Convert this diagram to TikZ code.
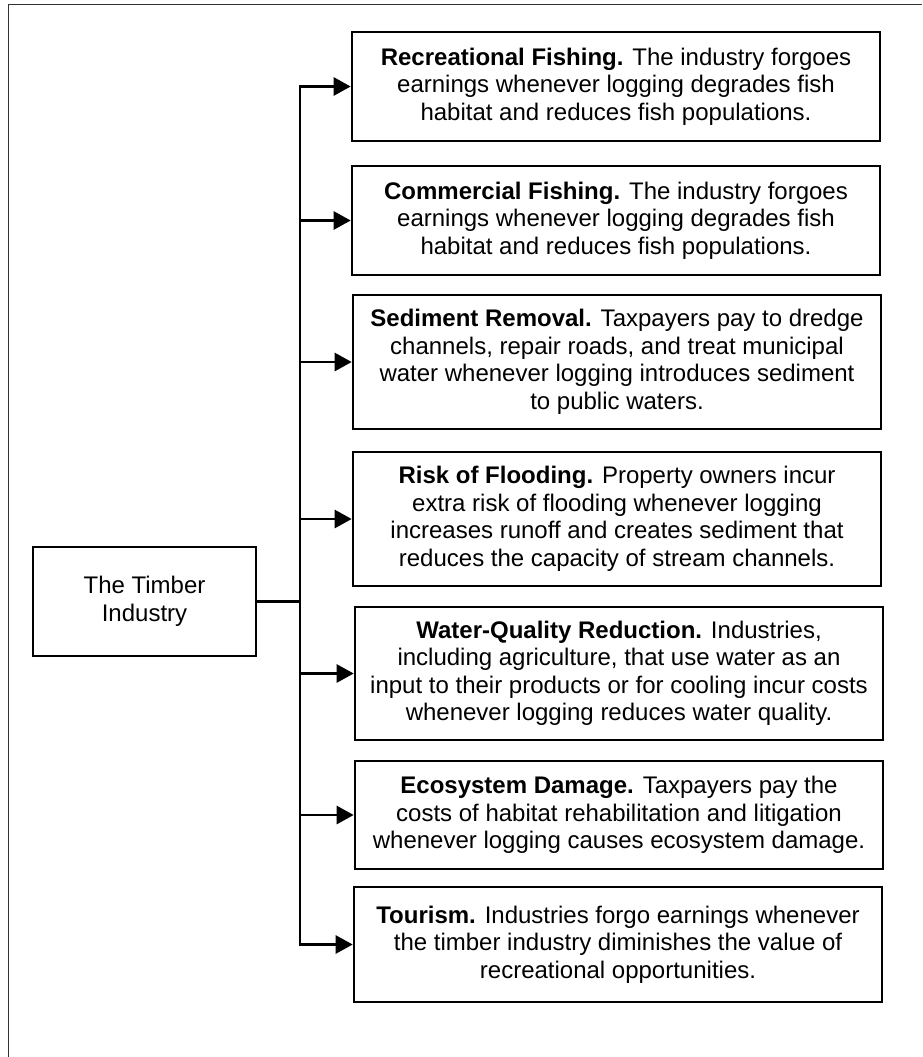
\documentclass[tikz,border=0pt]{standalone}
\usepackage{fontspec}
\setmainfont{Liberation Sans}
\usepackage{tikz}
\usetikzlibrary{arrows.meta,positioning}

\begin{document}
\begin{tikzpicture}[
    x=1pt, y=-1pt,
    effect/.style={draw, rectangle, line width=2.6pt, minimum width=528pt, minimum height=109pt,
                   align=center, inner sep=4pt, font=\fontsize{24}{27.5}\selectfont},
    source/.style={draw, rectangle, line width=2.6pt, minimum width=223pt, minimum height=109pt,
                   align=center, font=\fontsize{24}{27.5}\selectfont},
    arrow/.style={-{Triangle[length=17pt, width=18pt]}, line width=2.6pt},
    link/.style={line width=2.6pt},
    frame/.style={line width=1pt, black!80}
]
    \useasboundingbox (0,0) rectangle (922,1057);
    \draw[frame] (922,5) -- (8,5) -- (8,1057);

    % Left: the source of the costs
    \node[source] (timber) at (144.5, 601.5) {The Timber\\Industry};
    \coordinate (hub) at (300, 601.5);

    % Right column: costs borne by others
    \node[effect] (recfish) at (616, 86.5) {\textbf{Recreational Fishing.} The industry forgoes\\earnings whenever logging degrades fish\\habitat and reduces fish populations.};
    \node[effect] (comfish) at (616, 220.5) {\textbf{Commercial Fishing.} The industry forgoes\\earnings whenever logging degrades fish\\habitat and reduces fish populations.};
    \node[effect, minimum height=134pt] (sediment) at (617, 362) {\textbf{Sediment Removal.} Taxpayers pay to dredge\\channels, repair roads, and treat municipal\\water whenever logging introduces sediment\\to public waters.};
    \node[effect, minimum height=134pt] (flooding) at (617, 519) {\textbf{Risk of Flooding.} Property owners incur\\extra risk of flooding whenever logging\\increases runoff and creates sediment that\\reduces the capacity of stream channels.};
    \node[effect, minimum height=133pt] (water) at (619, 673.5) {\textbf{Water-Quality Reduction.} Industries,\\including agriculture, that use water as an\\input to their products or for cooling incur costs\\whenever logging reduces water quality.};
    \node[effect, minimum height=108pt] (ecosystem) at (619, 815) {\textbf{Ecosystem Damage.} Taxpayers pay the\\costs of habitat rehabilitation and litigation\\whenever logging causes ecosystem damage.};
    \node[effect, minimum height=115pt] (tourism) at (618, 944.5) {\textbf{Tourism.} Industries forgo earnings whenever\\the timber industry diminishes the value of\\recreational opportunities.};

    % Arrows
    \draw[link] (timber) -- (hub);
    \draw[arrow] (hub) |- (recfish);
    \draw[arrow] (hub) |- (comfish);
    \draw[arrow] (hub) |- (sediment);
    \draw[arrow] (hub) |- (flooding);
    \draw[arrow] (hub) |- (water);
    \draw[arrow] (hub) |- (ecosystem);
    \draw[arrow] (hub) |- (tourism);
\end{tikzpicture}
\end{document}
